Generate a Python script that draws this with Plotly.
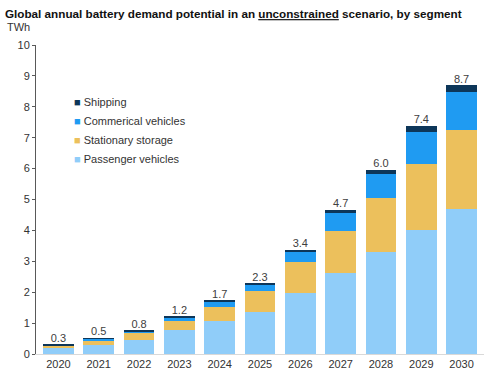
import plotly.graph_objects as go

years = ["2020", "2021", "2022", "2023", "2024", "2025", "2026", "2027", "2028", "2029", "2030"]
passenger = [0.20, 0.30, 0.46, 0.77, 1.08, 1.37, 1.98, 2.62, 3.30, 4.00, 4.69]
stationary = [0.06, 0.15, 0.22, 0.30, 0.45, 0.68, 0.99, 1.37, 1.74, 2.15, 2.56]
commercial = [0.03, 0.05, 0.06, 0.12, 0.16, 0.20, 0.35, 0.57, 0.80, 1.05, 1.24]
shipping = [0.01, 0.01, 0.02, 0.02, 0.03, 0.03, 0.06, 0.10, 0.12, 0.18, 0.20]
total_labels = ["0.3", "0.5", "0.8", "1.2", "1.7", "2.3", "3.4", "4.7", "6.0", "7.4", "8.7"]
y_ticks = [0, 1, 2, 3, 4, 5, 6, 7, 8, 9, 10]

totals = [p + s + c + h for p, s, c, h in zip(passenger, stationary, commercial, shipping)]

FONT = "Liberation Sans, Arial, sans-serif"

W, H = 492, 386
L, T, R, B = 36, 45, 8, 32
PW, PH = W - L - R, H - T - B


def px_x(px):
    return (px - L) / PW


def px_y(py):
    return (H - B - py) / PH


fig = go.Figure()
series = [
    ("Passenger vehicles", passenger, "#90CDF9"),
    ("Stationary storage", stationary, "#ECC05C"),
    ("Commerical vehicles", commercial, "#1F9BF2"),
    ("Shipping", shipping, "#0D3659"),
]
for name, vals, col in series:
    fig.add_trace(go.Bar(x=years, y=vals, name=name, showlegend=False,
                         marker=dict(color=col, line=dict(width=0))))

# legend entries: small square glyph in series colour before the name
for name, vals, col in series:
    fig.add_trace(go.Scatter(
        x=[None], y=[None], mode="markers", name=f'<span style="color:{col}">■</span> {name}',
        marker=dict(size=1, color="rgba(0,0,0,0)", opacity=0), hoverinfo="skip",
    ))

fig.add_trace(go.Scatter(
    x=years, y=totals, mode="text", text=total_labels, textposition="top center",
    textfont=dict(family=FONT, size=11, color="#404040"), showlegend=False, hoverinfo="skip",
))

fig.update_layout(
    width=W, height=H,
    margin=dict(l=L, r=R, t=T, b=B, autoexpand=False),
    barmode="stack", bargap=0.24, hovermode=False,
    plot_bgcolor="white", paper_bgcolor="white",
    font=dict(family=FONT, size=11, color="#333333"),
    title=dict(
        text="<b>Global annual battery demand potential in an <u>unconstrained</u> scenario, by segment</b>",
        x=5 / W, xanchor="left", xref="container",
        y=1 - 14 / H, yanchor="middle", yref="container",
        font=dict(family=FONT, size=11.7, color="#111111"),
    ),
    legend=dict(
        x=px_x(34), y=px_y(87), xanchor="left", yanchor="top",
        traceorder="reversed", bgcolor="rgba(0,0,0,0)",
        font=dict(family=FONT, size=11, color="#333333"),
        itemwidth=30, tracegroupgap=0,
    ),
    xaxis=dict(
        showgrid=False, showline=True, linecolor="#D9D9D9", linewidth=1,
        ticks="", automargin=False, tickfont=dict(family=FONT, size=11, color="#333333"),
    ),
    yaxis=dict(
        range=[0, 10], tickvals=y_ticks, showgrid=False, zeroline=False,
        showline=True, linecolor="#595959", linewidth=1,
        ticks="outside", ticklen=3, tickcolor="#595959", automargin=False,
        tickfont=dict(family=FONT, size=11, color="#333333"),
    ),
    annotations=[
        dict(text="TWh", x=px_x(5), y=px_y(27), xref="paper", yref="paper",
             xanchor="left", yanchor="middle", showarrow=False,
             font=dict(family=FONT, size=11, color="#333333")),
    ],
)

# remove the browser's default 8px body margin so the figure sits at the window origin
fig.write_html("out.html", config={"displayModeBar": False},
               post_script="document.body.style.margin='0';")
